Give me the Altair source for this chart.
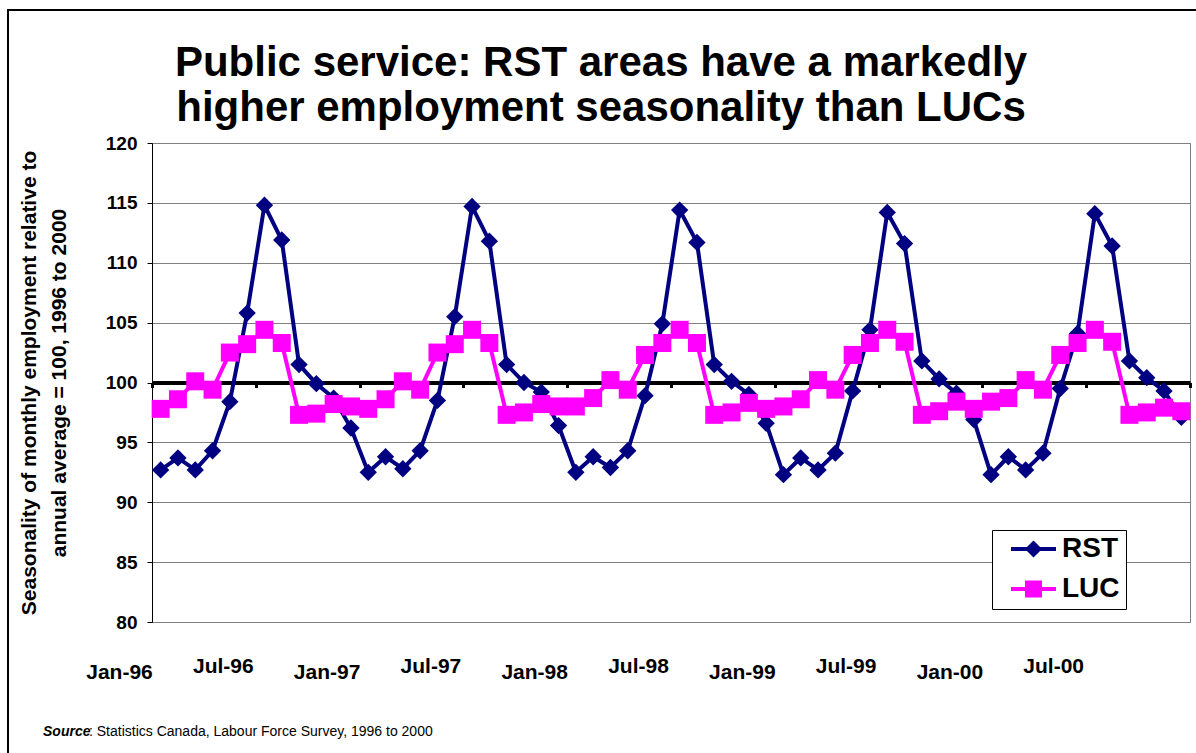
import altair as alt
import pandas as pd

# ---------------- data ----------------
month_index = list(range(60))  # Jan-96 .. Dec-00
rst = [
    92.7, 93.7, 92.7, 94.3, 98.4, 105.8, 114.8, 111.9, 101.5, 99.9, 98.7, 96.2,
    92.5, 93.8, 92.8, 94.3, 98.5, 105.5, 114.7, 111.8, 101.5, 100.0, 99.2, 96.4,
    92.5, 93.8, 92.9, 94.3, 98.9, 104.9, 114.4, 111.7, 101.5, 100.1, 99.0, 96.6,
    92.3, 93.7, 92.7, 94.1, 99.3, 104.4, 114.2, 111.6, 101.8, 100.3, 99.1, 96.9,
    92.3, 93.8, 92.7, 94.1, 99.5, 104.1, 114.1, 111.4, 101.8, 100.4, 99.3, 97.1,
]
luc = [
    97.8, 98.6, 100.1, 99.4, 102.5, 103.2, 104.4, 103.3, 97.3, 97.4, 98.2, 98.0,
    97.8, 98.6, 100.1, 99.4, 102.5, 103.2, 104.4, 103.3, 97.3, 97.5, 98.2, 98.0,
    98.0, 98.7, 100.2, 99.4, 102.3, 103.3, 104.4, 103.3, 97.3, 97.5, 98.3, 97.8,
    98.0, 98.6, 100.2, 99.4, 102.3, 103.3, 104.4, 103.4, 97.3, 97.6, 98.4, 97.8,
    98.4, 98.7, 100.2, 99.4, 102.3, 103.3, 104.4, 103.4, 97.3, 97.5, 97.9, 97.6,
]
x_tick_values = [0, 6, 12, 18, 24, 30, 36, 42, 48, 54, 60]
x_tick_labels = ["Jan-96", "Jul-96", "Jan-97", "Jul-97", "Jan-98", "Jul-98",
                 "Jan-99", "Jul-99", "Jan-00", "Jul-00", ""]
y_ticks = [80, 85, 90, 95, 100, 105, 110, 115, 120]
series_names = ["RST", "LUC"]
series_colors = ["#000080", "#FF00FF"]
title_lines = ["Public service: RST areas have a markedly",
               "higher employment seasonality than LUCs"]
y_title_lines = ["Seasonality of monthly employment relative to",
                 "annual average = 100, 1996 to 2000"]
source_parts = ["Source", ": Statistics Canada, Labour Force Survey, 1996 to 2000"]

df = pd.DataFrame({
    "m": month_index * 2,
    "series": ["RST"] * 60 + ["LUC"] * 60,
    "value": rst + luc,
})

FONT = "Liberation Sans"
W, H = 1038, 479

label_expr = "[" + ",".join(f"'{l}'" for l in x_tick_labels) + "][round(datum.value / 6)]"

x_enc = alt.X(
    "xpos:Q",
    scale=alt.Scale(domain=[0, 60], nice=False, zero=False),
    axis=alt.Axis(
        values=x_tick_values, labelExpr=label_expr, offset=-H / 2,
        domainColor="black", domainWidth=4, tickColor="black", tickWidth=3,
        tickSize=5, grid=False, title=None, labelFont=FONT, labelFontSize=21,
        labelFontWeight="bold", labelColor="black", labelOffset=-33,
        labelPadding={"condition": {"test": "datum.value % 12 == 0", "value": 274}, "value": 268},
        labelAngle=0, labelBound=False, labelOverlap=False, labelFlush=False,
    ),
)
y_enc = alt.Y(
    "value:Q",
    scale=alt.Scale(domain=[80, 120], nice=False, zero=False),
    axis=alt.Axis(
        values=y_ticks, title=y_title_lines, grid=True, gridColor="#808080",
        gridWidth=1, domainColor="black", tickColor="black", tickSize=5,
        labelFont=FONT, labelFontSize=19, labelFontWeight="bold",
        labelColor="black", labelPadding=10, titleFont=FONT, titleFontSize=21,
        titleFontWeight="bold", titleColor="black", titleX=-113, titleY=H / 2,
        titleAngle=270, titleAlign="center", titleBaseline="bottom",
        titleLineHeight=30,
    ),
)

base = alt.Chart(df).transform_calculate(xpos="datum.m + 0.5")

rst_line = base.transform_filter("datum.series == 'RST'").mark_line(
    color=series_colors[0], strokeWidth=4).encode(x=x_enc, y=y_enc)
rst_pts = base.transform_filter("datum.series == 'RST'").mark_point(
    shape="diamond", filled=True, size=300, opacity=1, color=series_colors[0]
).encode(x=x_enc, y=y_enc)
luc_line = base.transform_filter("datum.series == 'LUC'").mark_line(
    color=series_colors[1], strokeWidth=4).encode(x=x_enc, y=y_enc)
luc_pts = base.transform_filter("datum.series == 'LUC'").mark_point(
    shape="square", filled=True, size=324, opacity=1, color=series_colors[1]
).encode(x=x_enc, y=y_enc)

rst_path = "M-1,-0.09L1,-0.09L1,0.09L-1,0.09Z M-0.38,0L0,-0.38L0.38,0L0,0.38Z"
luc_path = "M-1,-0.09L1,-0.09L1,0.09L-1,0.09Z M-0.38,-0.38L0.38,-0.38L0.38,0.38L-0.38,0.38Z"
leg = alt.Legend(
    title=None, orient="none", legendX=840, legendY=387, padding=6,
    strokeColor="black", fillColor="white", symbolSize=2025, clipHeight=26,
    symbolOffset=13, symbolStrokeWidth=0, symbolOpacity=1, labelFont=FONT,
    labelFontSize=28, labelFontWeight="bold", labelColor="black",
    labelOffset=6, rowPadding=12,
)
legend_layer = base.mark_point(filled=True, opacity=0).encode(
    x=x_enc, y=y_enc,
    color=alt.Color("series:N", scale=alt.Scale(domain=series_names, range=series_colors), legend=leg),
    shape=alt.Shape("series:N", scale=alt.Scale(domain=series_names, range=[rst_path, luc_path]), legend=leg),
)

one = pd.DataFrame({"a": [0]})
frame = alt.Chart(one).mark_rect(filled=False, stroke="black", strokeWidth=2).encode(
    x=alt.value(8 - 152), x2=alt.value(1210 - 152), y=alt.value(10 - 143), y2=alt.value(800 - 143)
)
src1 = alt.Chart(pd.DataFrame({"t": [source_parts[0]]})).mark_text(
    font=FONT, fontSize=14, fontWeight="bold", fontStyle="italic", align="left",
    baseline="alphabetic", color="black"
).encode(text="t:N", x=alt.value(43 - 152), y=alt.value(736 - 143))
src2 = alt.Chart(pd.DataFrame({"t": [source_parts[1]]})).mark_text(
    font=FONT, fontSize=14, align="left", baseline="alphabetic", color="black"
).encode(text="t:N", x=alt.value(89 - 152), y=alt.value(736 - 143))

chart = alt.layer(
    frame, rst_line, rst_pts, luc_line, luc_pts, legend_layer, src1, src2
).properties(
    width=W, height=H,
    autosize=alt.AutoSizeParams(type="none"),
    padding={"left": 152, "top": 143, "right": 6, "bottom": 131},
    background="white",
    title=alt.TitleParams(
        text=title_lines, font=FONT, fontSize=42, fontWeight="bold",
        color="black", anchor="middle", dx=-70, offset=-121, lineHeight=45,
    ),
).configure_view(stroke="#808080", strokeWidth=1)

chart.save("out.html", embed_options={"renderer": "svg", "actions": False})
